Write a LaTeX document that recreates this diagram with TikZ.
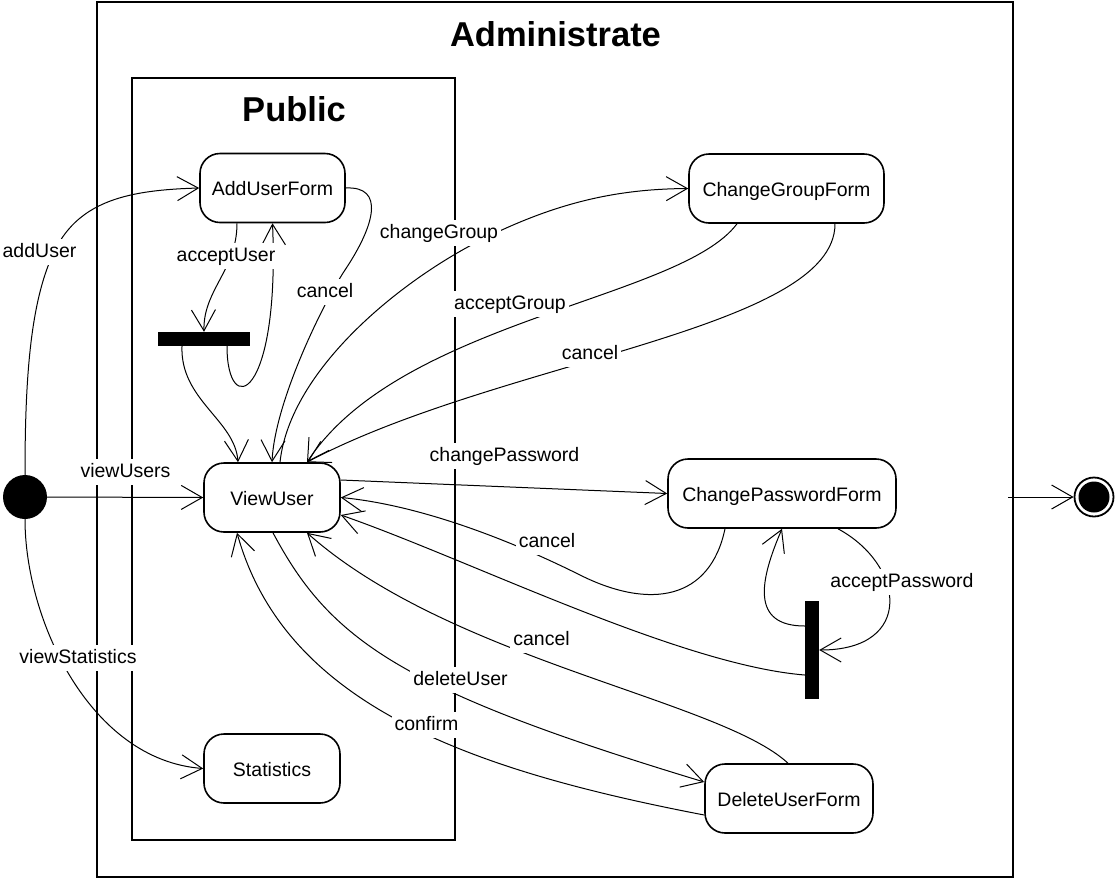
\documentclass[tikz,border=0pt]{standalone}
\usepackage{fontspec}
\setmainfont{Liberation Sans}
\usetikzlibrary{arrows.meta}

\begin{document}
\begin{tikzpicture}[x=1pt,y=-1pt,
  frame/.style={draw, line width=2pt, inner sep=0pt, outer sep=0pt},
  title/.style={anchor=base, font=\bfseries\fontsize{34.5pt}{40pt}\selectfont},
  state/.style={draw, line width=1.6pt, rounded corners=20pt, fill=white,
    inner sep=0pt, minimum height=69pt, text height=15pt, text depth=0pt,
    font=\fontsize{19.5pt}{23pt}\selectfont},
  bar/.style={fill=black, inner sep=0pt},
  edge/.style={line width=1pt, -{Straight Barb[length=21pt,width=24pt]}},
  lbl/.style={fill=white, anchor=base, inner xsep=3pt, inner ysep=4pt,
    text height=14pt, text depth=4pt, font=\fontsize{19.5pt}{23pt}\selectfont}]

\useasboundingbox (0,0) rectangle (1117,879);

% composite states
\node[frame, minimum width=916pt, minimum height=875.5pt] (admin) at (555,439.25) {};
\node[frame, minimum width=322.5pt, minimum height=762pt] (pub) at (293.25,459) {};
\node[title] (admintitle) at (555.5,46) {Administrate};
\node[title] (pubtitle) at (294,121) {Public};

% pseudo states and bars
\node[circle, fill=black, minimum size=44pt, inner sep=0pt] (init) at (25,497) {};
\node[circle, draw, line width=1.8pt, minimum size=39pt, inner sep=0pt] (final) at (1094,497) {};
\fill (final.center) circle (15.5pt);
\node[bar, minimum width=92pt, minimum height=14pt] (bar1) at (204,339) {};
\node[bar, minimum width=14pt, minimum height=98pt] (bar2) at (812,650) {};
\coordinate (exit) at (1008,497);

% states
\node[state, minimum width=145pt] (auf) at (272.5,188) {AddUserForm};
\node[state, minimum width=136pt] (vu) at (272,497.5) {ViewUser};
\node[state, minimum width=136pt] (stat) at (272,768.5) {Statistics};
\node[state, minimum width=195pt] (cgf) at (786.5,188.5) {ChangeGroupForm};
\node[state, minimum width=228pt] (cpf) at (782,493.5) {ChangePasswordForm};
\node[state, minimum width=168pt] (duf) at (789,798.5) {DeleteUserForm};

% transitions from the initial state
\draw[edge] (init.north) .. controls (25,380) and (30,300) .. (55,250)
  .. controls (80,200) and (130,190) .. (auf.west);
\draw[edge] (init.east) -- (vu.west);
\draw[edge] (init.south) .. controls (25,620) and (90,760) .. (stat.west);

% AddUserForm
\draw[edge] ([xshift=-35.5pt]auf.south) .. controls (237,270) and (203,290) .. (bar1.north);
\draw[edge] ([xshift=23pt]bar1.south) .. controls (227,420) and (280,400) .. (auf.south);
\draw[edge] ([xshift=-22pt]bar1.south) .. controls (180,400) and (235,420) .. ([xshift=-34pt]vu.north);
\draw[edge] (auf.east) .. controls (385,186) and (375,225) .. (345,270)
  .. controls (325,300) and (275,400) .. (vu.north);

% ChangeGroupForm
\draw[edge] ([xshift=8pt]vu.north) .. controls (290,370) and (400,280) .. (485,238)
  .. controls (560,201) and (620,189) .. (cgf.west);
\draw[edge] ([xshift=-49.5pt]cgf.south) .. controls (680,300) and (400,320) .. ([xshift=35pt]vu.north);
\draw[edge] ([xshift=48.5pt]cgf.south) .. controls (835,330) and (500,360) .. ([xshift=35pt]vu.north);

% ChangePasswordForm
\draw[edge] ([yshift=17.5pt]vu.east) -- (cpf.west);
\draw[edge] ([xshift=-57pt]cpf.south) .. controls (710,600) and (650,610) .. (580,575)
  .. controls (510,540) and (420,505) .. (vu.east);
\draw[edge] ([xshift=56pt]cpf.south) .. controls (905,565) and (915,650) .. (bar2.east);
\draw[edge] ([yshift=24pt]bar2.west) .. controls (750,626) and (760,580) .. (cpf.south);
\draw[edge] ([yshift=-25pt]bar2.west) .. controls (680,665) and (470,560) .. ([yshift=-17.5pt]vu.east);

% DeleteUserForm
\draw[edge] ([xshift=1pt]vu.south) .. controls (330,640) and (400,690) .. ([yshift=16.5pt]duf.west);
\draw[edge] ([xshift=-1pt]duf.north) .. controls (720,700) and (450,660) .. ([xshift=35pt]vu.south);
\draw[edge] ([yshift=-16.5pt]duf.west) .. controls (470,770) and (285,705) .. ([xshift=-35pt]vu.south);

% leaving the composite state
\draw[edge] (exit) -- (final.west);

% transition labels
\node[lbl] (lAddUser) at (39.5,257) {addUser};
\node[lbl] (lViewUsers) at (125.5,477) {viewUsers};
\node[lbl] (lViewStatistics) at (78,663) {viewStatistics};
\node[lbl] (lAcceptUser) at (226,261) {acceptUser};
\node[lbl] (lCancelA) at (325,297) {cancel};
\node[lbl] (lChangeGroup) at (439,238) {changeGroup};
\node[lbl] (lAcceptGroup) at (510,309) {acceptGroup};
\node[lbl] (lCancelG) at (590,359) {cancel};
\node[lbl] (lChangePassword) at (504.5,461) {changePassword};
\node[lbl] (lCancelP) at (547,547) {cancel};
\node[lbl] (lAcceptPassword) at (902,587) {acceptPassword};
\node[lbl] (lCancelD) at (541.5,645) {cancel};
\node[lbl] (lDeleteUser) at (460.5,685) {deleteUser};
\node[lbl] (lConfirm) at (426.5,730) {confirm};

\end{tikzpicture}
\end{document}
